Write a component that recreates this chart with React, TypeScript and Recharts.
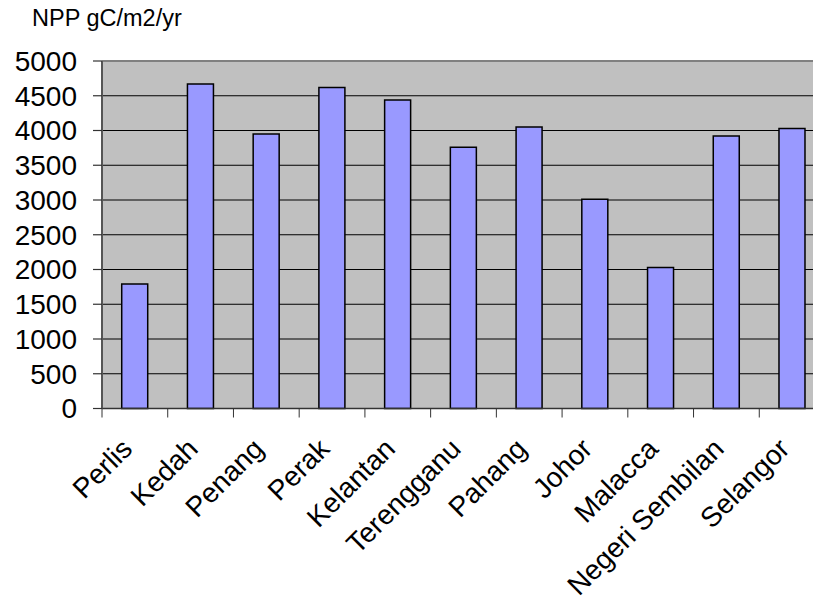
import React from 'react';
import { BarChart, Bar, XAxis, YAxis, CartesianGrid, ReferenceLine } from 'recharts';

const categories = ['Perlis', 'Kedah', 'Penang', 'Perak', 'Kelantan', 'Terengganu', 'Pahang', 'Johor', 'Malacca', 'Negeri Sembilan', 'Selangor'];
const nppValues = [1790, 4670, 3950, 4620, 4440, 3760, 4050, 3010, 2030, 3920, 4030];
const yTicks = [0, 500, 1000, 1500, 2000, 2500, 3000, 3500, 4000, 4500, 5000];
const titleText = 'NPP gC/m2/yr';

const data = categories.map((name, i) => ({ name, npp: nppValues[i] }));

const CHART_W = 825;
const CHART_H = 605;
const Y_AXIS_W = 102;
const BAND = (CHART_W - Y_AXIS_W) / categories.length;
const FONT = 'Arial, "Liberation Sans", sans-serif';

const XTick = (props: any) => {
  const { x, y, payload } = props;
  const bx = x - BAND / 2;
  const ax = x - 1;
  const ay = y + 42;
  return (
    <g>
      <line x1={bx} y1={y} x2={bx} y2={y + 9} stroke="#333" strokeWidth={1} />
      <text
        x={ax}
        y={ay}
        textAnchor="end"
        transform={`rotate(-45, ${ax}, ${ay})`}
        fontSize={28}
        fontFamily={FONT}
        fill="#000"
      >
        {payload.value}
      </text>
    </g>
  );
};

export default function App() {
  return (
    <div style={{ position: 'absolute', left: 0, top: 0, width: 813, height: 605, overflow: 'hidden', background: '#fff' }}>
      <div style={{ position: 'absolute', left: 32, top: 7, fontFamily: FONT, fontSize: 23.5, lineHeight: '23.5px', color: '#000', whiteSpace: 'nowrap' }}>
        {titleText}
      </div>
      <BarChart
        width={CHART_W}
        height={CHART_H}
        data={data}
        margin={{ top: 61, right: 0, bottom: 0, left: 0 }}
        barCategoryGap="30%"
      >
        <CartesianGrid vertical={false} stroke="#000" strokeWidth={1.2} fill="#C0C0C0" fillOpacity={1} />
        <ReferenceLine y={5000} stroke="#808080" strokeWidth={2} />
        <XAxis
          dataKey="name"
          interval={0}
          height={CHART_H - 61 - 347.5}
          tickSize={0}
          tickMargin={0}
          tick={<XTick />}
          axisLine={{ stroke: '#333', strokeWidth: 1.5 }}
          tickLine={false}
        />
        <YAxis
          width={Y_AXIS_W}
          domain={[0, 5000]}
          ticks={yTicks}
          interval={0}
          tickSize={9}
          tickMargin={16}
          tick={{ fontSize: 28, fill: '#000', fontFamily: FONT }}
          tickLine={{ stroke: '#333', strokeWidth: 1.2 }}
          axisLine={{ stroke: '#555', strokeWidth: 2 }}
        />
        <Bar dataKey="npp" fill="#9999FF" stroke="#000" strokeWidth={1.5} isAnimationActive={false} />
      </BarChart>
    </div>
  );
}
